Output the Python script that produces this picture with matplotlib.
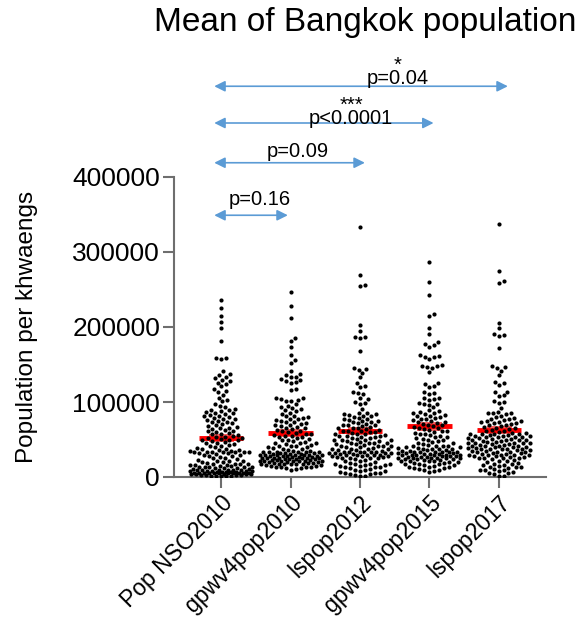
import numpy as np
import matplotlib
matplotlib.use("Agg")
from matplotlib import pyplot as plt

plt.rcParams["font.family"] = ["Liberation Sans", "DejaVu Sans"]

# population per khwaeng, in thousands
GROUPS = ["Pop NSO2010", "gpwv4pop2010", "lspop2012", "gpwv4pop2015", "lspop2017"]

pop_nso2010 = [
    236, 225, 215, 207, 198, 182, 159, 158, 157,
    141, 138, 136, 134, 132, 130, 128, 126, 124, 121,
    117, 115, 113, 110, 106, 103, 101,
    98, 95, 93, 91, 90, 89, 88, 87, 86, 85,
    84, 83, 82, 81, 80, 79, 78, 77, 76, 75, 74, 73, 72, 71,
    69, 68, 67, 66, 65, 64, 63, 62, 61, 60, 59, 58, 57, 56, 55, 54,
    53, 52, 52, 51, 50, 50, 49, 48, 47, 46, 45, 44, 43, 42, 41, 40,
    39, 38, 37, 36, 36, 35, 35, 34, 34, 34, 33, 33, 33, 33, 32, 32, 31, 30,
    29, 28, 28, 27, 26, 25,
    24, 23, 22, 22, 21, 20, 20, 19, 18, 18, 17, 17, 16, 16, 16, 15, 15,
    14, 14, 14, 13, 13, 12, 12, 12, 11, 11, 10, 10,
    9, 9, 9, 9, 8, 8, 8, 8, 8, 7, 7, 7, 7, 7, 6, 6, 6, 6, 6, 6,
    5, 5, 5, 5, 5, 4, 4, 4, 4, 4, 3, 3, 3, 3, 2, 2, 2, 1, 1,
]
gpwv4pop2010 = [
    247, 228, 212, 185, 182, 174, 163, 156, 152,
    141, 138, 136, 134, 133, 131, 130, 128, 127, 126,
    117, 116, 106, 105, 104, 103, 102, 101,
    97, 95, 93, 92, 91, 89, 88, 86,
    84, 82, 81, 80, 79, 78, 77, 76, 75, 74, 73, 72, 71, 70,
    69, 68, 67, 66, 65, 64, 63, 62, 61, 60, 59, 58, 57, 56, 55, 55,
    54, 53, 52, 51, 50, 49, 48, 47, 46, 45, 45, 44, 43, 42, 42, 41, 40, 40,
    39, 38, 37, 36, 35, 35, 34, 34, 34, 33, 33, 33, 32, 32, 32, 31, 31, 31,
    30, 30, 30, 30, 29, 29, 29, 28, 28, 28, 28, 27, 27, 27, 26, 26, 26, 26,
    25, 25, 25, 24, 24, 24, 24, 23, 23, 23, 22, 22, 22, 22, 21, 21, 21,
    20, 20, 20, 19, 19, 19, 18, 18, 18, 18, 17, 17, 16, 16, 15, 15,
    14, 14, 13, 13, 12, 12, 11, 10,
]
lspop2012 = [
    333, 269, 256, 255, 202, 195, 187, 186, 185, 168,
    145, 144, 143, 139, 133, 125, 122, 120,
    113, 112, 111, 106, 104, 100, 99, 98,
    91, 86, 85, 84, 84, 83, 82, 81, 80,
    79, 78, 77, 76, 75, 75, 74, 73, 72, 71, 70, 70, 69, 68, 67, 66, 65, 65,
    64, 63, 62, 62, 61, 60, 60, 59, 58, 58, 57, 56, 55, 55, 55, 54, 53, 52, 52,
    51, 50, 50, 50, 49, 48, 48, 47, 46, 46, 45, 45, 44, 44, 43, 42, 42, 42,
    41, 40, 40, 39, 38, 38, 38, 37, 36, 36, 35, 34,
    34, 34, 33, 33, 33, 32, 32, 32, 32, 31, 31, 30, 30, 30, 29, 29, 28, 28, 28,
    27, 27, 26, 26, 25, 25,
    24, 23, 22, 21, 20, 19, 18, 18, 17, 17, 16, 16, 15, 15, 14, 14, 13, 12, 11, 10,
    9, 8, 8, 7, 6, 6, 5, 4, 4, 3, 2, 1,
]
gpwv4pop2015 = [
    286, 260, 242, 217, 215, 199, 190, 180, 178, 176, 174,
    162, 161, 160, 160, 157, 149, 148, 148, 147, 146, 140,
    126, 124, 122, 120, 113, 112, 111, 106, 105, 104, 103,
    99, 98, 97, 96, 93, 89, 88, 87, 86, 85,
    84, 83, 82, 81, 80, 79, 78, 77, 76, 75, 74, 73, 72, 71, 70, 69, 68, 67, 66, 65,
    64, 63, 62, 61, 60, 59, 58, 57, 56, 55, 54, 53, 52, 51, 50,
    49, 48, 47, 46, 45, 44, 43, 42, 42, 41, 41, 40, 40, 39, 39, 38, 38, 37, 37,
    36, 36, 35, 35, 34, 34, 34, 33, 33, 33, 32, 32, 32, 31, 31, 31,
    30, 30, 30, 29, 29, 29, 28, 28, 28, 27, 27, 27, 26, 26, 26,
    25, 25, 25, 24, 24, 24, 23, 23, 22, 22, 21, 21, 20, 20, 19, 19, 18, 18,
    17, 16, 16, 15, 14, 14, 13, 12, 12, 11, 10, 9, 8, 7,
]
lspop2017 = [
    337, 274, 261, 259, 205, 198, 190, 189, 188, 172,
    148, 147, 145, 142, 136, 127, 125, 123,
    114, 113, 109, 108, 101, 100, 99, 92,
    87, 86, 86, 85, 84, 82, 80,
    79, 78, 77, 76, 75, 75, 74, 73, 72, 72, 71, 70, 69, 68, 67, 66, 65,
    64, 63, 62, 61, 60, 59, 59, 58, 58, 57, 57, 56, 56, 55, 55, 55, 54, 54,
    53, 53, 52, 52, 51, 51, 50, 50, 49, 49, 48, 48, 47, 47, 46, 46, 45, 45, 45,
    44, 44, 43, 43, 42, 42, 41, 41, 40, 40, 40, 39, 39, 38, 38, 38, 37, 37,
    36, 36, 35, 35, 34, 34, 33, 33, 32, 32, 31, 31, 30, 30, 30,
    29, 29, 28, 28, 27, 27, 26, 26, 25, 25, 24, 23, 22, 21, 20,
    19, 18, 17, 16, 16, 15, 14, 13, 13, 12, 11, 10, 10, 9, 8, 7, 6, 5,
    4, 2, 1,
]
SERIES = [pop_nso2010, gpwv4pop2010, lspop2012, gpwv4pop2015, lspop2017]

# comparisons against Pop NSO2010
P_LABELS = ["p=0.16", "p=0.09", "p<0.0001", "p=0.04"]
STARS = ["", "", "***", "*"]

# annotation layout (data coords)
ARROW_X0 = -0.1
ARROW_X1 = [0.96, 2.07, 3.06, 4.13]
ARROW_Y = [349000, 419000, 472000, 521000]
TEXT_X = [0.56, 1.11, 1.87, 2.54]
TEXT_BOTTOM = [357000, 421000, 465000, 518500]

ARROW_COLOR = "#5b9bd5"
AXIS_COLOR = "#6e6e6e"

# pixel scale of the axes (used only for the swarm layout)
PX_PER_CAT = 69.5
PX_PER_UNIT = 75 / 100000


def swarm_offsets(values, d=5.0, half_width=31):
    # prism-like swarm: nearest free x to the centre, capped at half_width px;
    # when a row is full the least crowded spot inside the cap is used
    y = np.sort(np.asarray(values, dtype=float))
    ypx = y * PX_PER_UNIT
    steps = np.arange(0.5, half_width + 0.01, 0.5)
    cand = np.concatenate([[0.0], np.ravel(np.column_stack([steps, -steps]))])
    px, py = [], []
    for yi in ypx:
        near = np.array([(a, b) for a, b in zip(px, py) if abs(b - yi) < d])
        if len(near) == 0:
            chosen = 0.0
        else:
            dist = np.sqrt((cand[:, None] - near[None, :, 0]) ** 2
                           + (yi - near[None, :, 1]) ** 2).min(axis=1)
            free = np.where(dist >= d)[0]
            chosen = cand[free[0]] if len(free) else cand[np.argmax(dist)]
        px.append(chosen)
        py.append(yi)
    return np.array(px) / PX_PER_CAT, y


def main() -> None:
    fig = plt.figure(figsize=(5.88, 6.17), dpi=100)
    ax = fig.add_axes([174 / 588, 1 - 477 / 617, 372 / 588, 300 / 617])

    for i, vals in enumerate(SERIES):
        v = np.asarray(vals, dtype=float) * 1000
        dx, y = swarm_offsets(v)
        ax.scatter(i + dx, y, s=9, color="black", linewidths=0, zorder=4)
        mean = v.mean()
        sem = v.std(ddof=1) / np.sqrt(len(v))
        ax.hlines(mean, i - 0.32, i + 0.32, color="red", lw=3.5, zorder=3)
        ax.errorbar(i, mean, yerr=sem, color="red", lw=1.2, capsize=9,
                    capthick=1.2, alpha=0.75, zorder=3)

    ax.set_xlim(-0.68, 4.68)
    ax.set_ylim(0, 400000)
    ax.set_yticks([0, 100000, 200000, 300000, 400000])
    ax.set_yticklabels(["0", "100000", "200000", "300000", "400000"], fontsize=19)
    ax.set_xticks(range(len(GROUPS)))
    ax.set_xticklabels(GROUPS, rotation=45, ha="right", rotation_mode="anchor",
                       fontsize=16.5)
    ax.set_ylabel("Population per khwaengs", fontsize=17.5)
    ax.yaxis.set_label_coords(-0.366, 0.5)

    for side in ("top", "right"):
        ax.spines[side].set_visible(False)
    for side in ("left", "bottom"):
        ax.spines[side].set_color(AXIS_COLOR)
        ax.spines[side].set_linewidth(1.5)
    ax.tick_params(axis="both", colors=AXIS_COLOR, labelcolor="black",
                   length=8, width=1.5, pad=2)

    for k in range(len(P_LABELS)):
        y = ARROW_Y[k]
        ax.annotate("", xy=(ARROW_X1[k], y), xytext=(ARROW_X0, y),
                    xycoords="data", annotation_clip=False,
                    arrowprops=dict(arrowstyle="<|-|>", color=ARROW_COLOR, lw=1.2,
                                    mutation_scale=16, shrinkA=0, shrinkB=0))
        label = STARS[k] + "\n" + P_LABELS[k] if STARS[k] else P_LABELS[k]
        ax.text(TEXT_X[k], TEXT_BOTTOM[k], label, ha="center", va="bottom",
                fontsize=14.5, linespacing=0.6, clip_on=False, zorder=5)

    fig.text(365 / 588, 1 - 23 / 617, "Mean of Bangkok population",
             ha="center", va="center", fontsize=24)

    fig.savefig("out.png", dpi=100)


if __name__ == "__main__":
    main()
